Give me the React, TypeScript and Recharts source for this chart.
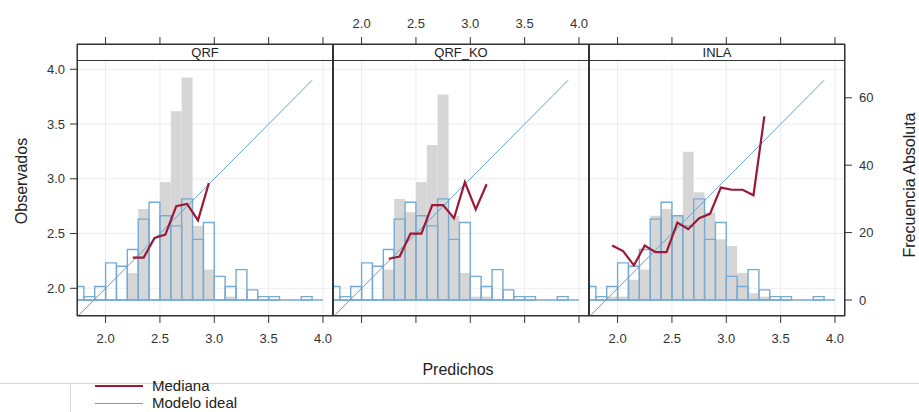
import React from 'react';
import { ComposedChart, XAxis, YAxis, Line, ReferenceArea, ReferenceLine, CartesianGrid } from 'recharts';

// Histogram bins (start of each 0.1-wide bin)
const binStarts = [1.7, 1.8, 1.9, 2.0, 2.1, 2.2, 2.3, 2.4, 2.5, 2.6, 2.7, 2.8, 2.9, 3.0, 3.1, 3.2, 3.3, 3.4, 3.5, 3.6, 3.7, 3.8, 3.9];
const binWidth = 0.1;

// Observed values histogram (blue outline) – same in all panels
const observedCounts = [4, 1, 4, 11, 10, 15, 24, 29, 25, 22, 30, 18, 23, 7, 4, 9, 3, 1, 1, 0, 0, 1, 0];

// Predicted values histograms (grey)
const qrfCounts = [0, 0, 0, 0, 0, 8, 27, 0, 35, 56, 66, 22, 9, 0, 1, 0, 0, 0, 0, 0, 0, 0, 0];
const qrfKoCounts = [0, 0, 0, 0, 0, 9, 30, 26, 35, 46, 61, 25, 8, 1, 1, 0, 0, 0, 0, 0, 0, 0, 0];
const inlaCounts = [0, 0, 1, 1, 6, 9, 25, 27, 25, 44, 32, 26, 18, 16, 8, 2, 1, 0, 0, 0, 0, 0, 0];

// Median of observed per predicted bin (red line)
const qrfMedX = [2.25, 2.35, 2.45, 2.55, 2.65, 2.75, 2.85, 2.95];
const qrfMedY = [2.28, 2.28, 2.46, 2.49, 2.75, 2.77, 2.62, 2.96];
const qrfKoMedX = [2.25, 2.35, 2.45, 2.55, 2.65, 2.75, 2.85, 2.95, 3.05, 3.15];
const qrfKoMedY = [2.27, 2.29, 2.5, 2.5, 2.76, 2.76, 2.64, 2.97, 2.72, 2.95];
const inlaMedX = [1.95, 2.05, 2.15, 2.25, 2.35, 2.45, 2.55, 2.65, 2.75, 2.85, 2.95, 3.05, 3.15, 3.25, 3.35];
const inlaMedY = [2.39, 2.34, 2.21, 2.39, 2.33, 2.33, 2.6, 2.54, 2.64, 2.68, 2.92, 2.9, 2.9, 2.85, 3.57];

// Ideal model line (y = x)
const idealX = [1.7, 3.9];

// Ticks
const xTicks = [2.0, 2.5, 3.0, 3.5, 4.0];
const obsTicks = [2.0, 2.5, 3.0, 3.5, 4.0];
const countTicks = [0, 20, 40, 60];

const panelNames = ['QRF', 'QRF_KO', 'INLA'];

const X_DOMAIN: [number, number] = [1.737, 4.092];
const OBS_DOMAIN: [number, number] = [1.747, 4.231];
const COUNT_DOMAIN: [number, number] = [-4.75, 75.96];

const W = 919;
const H = 412;
const PANEL_W = 256;
const PLOT_TOP = 44;
const PLOT_BOTTOM = 316;
const AXIS_W = 40;
const AXIS_H = 40;

const GREY = '#d6d6d6';
const BLUE = '#76abd6';
const BLUE_LINE = '#659fcb';
const RED = '#9c1834';
const INK = '#333333';
const FONT = '"Liberation Sans", Arial, sans-serif';

const fmt1 = (v: number) => v.toFixed(1);
const blank = () => '';

const idealData = idealX.map((v) => ({ x: v, y: v }));

type PanelProps = {
  name: string;
  counts: number[];
  medX: number[];
  medY: number[];
  left: number;
  showLeft: boolean;
  showRight: boolean;
  bottomLabels: boolean;
  topLabels: boolean;
};

function Panel({ counts, medX, medY, left, showLeft, showRight, bottomLabels, topLabels }: PanelProps) {
  const medianData = medX.map((x, i) => ({ x, y: medY[i] }));
  const margin = {
    top: PLOT_TOP - AXIS_H,
    bottom: H - PLOT_BOTTOM - AXIS_H,
    left: left - (showLeft ? AXIS_W : 0),
    right: W - (left + PANEL_W) - (showRight ? AXIS_W : 0),
  };
  const tickStyle = { fontSize: 13, fill: INK, fontFamily: FONT };
  return (
    <div style={{ position: 'absolute', left: 0, top: 0 }}>
      <ComposedChart width={W} height={H} margin={margin}>
        <CartesianGrid xAxisId="b" yAxisId="obs" stroke="#ececec" strokeWidth={1} />
        <XAxis
          xAxisId="b"
          orientation="bottom"
          type="number"
          dataKey="x"
          domain={X_DOMAIN}
          allowDataOverflow
          ticks={xTicks}
          interval={0}
          height={AXIS_H}
          tickSize={7}
          tickMargin={11}
          tickFormatter={bottomLabels ? fmt1 : blank}
          axisLine={{ stroke: INK }}
          tickLine={{ stroke: INK }}
          tick={tickStyle}
        />
        <XAxis
          xAxisId="t"
          orientation="top"
          type="number"
          dataKey="x"
          domain={X_DOMAIN}
          allowDataOverflow
          ticks={xTicks}
          interval={0}
          height={AXIS_H}
          tickSize={7}
          tickMargin={9}
          tickFormatter={topLabels ? fmt1 : blank}
          axisLine={{ stroke: INK }}
          tickLine={{ stroke: INK }}
          tick={tickStyle}
        />
        <YAxis
          yAxisId="obs"
          orientation="left"
          type="number"
          domain={OBS_DOMAIN}
          allowDataOverflow
          ticks={obsTicks}
          interval={0}
          hide={!showLeft}
          width={AXIS_W}
          tickSize={7}
          tickMargin={5}
          tickFormatter={fmt1}
          axisLine={{ stroke: INK }}
          tickLine={{ stroke: INK }}
          tick={tickStyle}
        />
        <YAxis
          yAxisId="cnt"
          orientation="right"
          type="number"
          domain={COUNT_DOMAIN}
          allowDataOverflow
          ticks={countTicks}
          interval={0}
          hide={!showRight}
          width={AXIS_W}
          tickSize={7}
          tickMargin={7}
          axisLine={{ stroke: INK }}
          tickLine={{ stroke: INK }}
          tick={tickStyle}
        />
        {binStarts.map((b, i) =>
          counts[i] > 0 ? (
            <ReferenceArea
              key={'g' + i}
              xAxisId="b"
              yAxisId="cnt"
              x1={b}
              x2={b + binWidth}
              y1={0}
              y2={counts[i]}
              fill={GREY}
              fillOpacity={1}
              stroke="none"
              ifOverflow="hidden"
            />
          ) : null
        )}
        {binStarts.map((b, i) =>
          observedCounts[i] > 0 ? (
            <ReferenceArea
              key={'o' + i}
              xAxisId="b"
              yAxisId="cnt"
              x1={b}
              x2={b + binWidth}
              y1={0}
              y2={observedCounts[i]}
              fill="none"
              fillOpacity={0}
              stroke={BLUE}
              strokeWidth={1.4}
              ifOverflow="hidden"
            />
          ) : null
        )}
        <ReferenceLine
          xAxisId="b"
          yAxisId="cnt"
          segment={[
            { x: binStarts[0], y: 0 },
            { x: binStarts[binStarts.length - 1] + binWidth, y: 0 },
          ]}
          stroke={BLUE}
          strokeWidth={1.4}
          ifOverflow="hidden"
        />
        <Line
          xAxisId="b"
          yAxisId="obs"
          data={idealData}
          dataKey="y"
          type="linear"
          stroke={BLUE_LINE}
          strokeWidth={1}
          dot={false}
          isAnimationActive={false}
        />
        <Line
          xAxisId="b"
          yAxisId="obs"
          data={medianData}
          dataKey="y"
          type="linear"
          stroke={RED}
          strokeWidth={2.2}
          dot={false}
          isAnimationActive={false}
        />
        <Line
          xAxisId="t"
          yAxisId="obs"
          data={idealData}
          dataKey="y"
          stroke="none"
          dot={false}
          activeDot={false}
          isAnimationActive={false}
        />
      </ComposedChart>
    </div>
  );
}

const panelCounts = [qrfCounts, qrfKoCounts, inlaCounts];
const panelMedX = [qrfMedX, qrfKoMedX, inlaMedX];
const panelMedY = [qrfMedY, qrfKoMedY, inlaMedY];
const panelLefts = [77, 333, 589];

export default function App() {
  return (
    <div
      style={{
        position: 'absolute',
        left: 0,
        top: 0,
        width: W,
        height: H,
        background: '#fff',
        overflow: 'hidden',
        fontFamily: FONT,
        color: '#222',
      }}
    >
      {panelNames.map((name, i) => (
        <Panel
          key={name}
          name={name}
          counts={panelCounts[i]}
          medX={panelMedX[i]}
          medY={panelMedY[i]}
          left={panelLefts[i]}
          showLeft={i === 0}
          showRight={i === 2}
          bottomLabels={i !== 1}
          topLabels={i === 1}
        />
      ))}
      {/* strips */}
      {panelNames.map((name, i) => (
        <div
          key={'s' + name}
          style={{
            position: 'absolute',
            left: panelLefts[i],
            top: PLOT_TOP,
            width: PANEL_W,
            height: 17,
            boxSizing: 'border-box',
            border: '1px solid ' + INK,
            background: '#fff',
            fontSize: 13,
            lineHeight: '15px',
            textAlign: 'center',
            color: '#222',
          }}
        >
          {name}
        </div>
      ))}
      {/* panel frames */}
      {panelNames.map((name, i) => (
        <div
          key={'f' + name}
          style={{
            position: 'absolute',
            left: panelLefts[i],
            top: PLOT_TOP,
            width: PANEL_W,
            height: PLOT_BOTTOM - PLOT_TOP,
            boxSizing: 'border-box',
            border: '1px solid ' + INK,
          }}
        />
      ))}
      {/* axis titles */}
      <div
        style={{
          position: 'absolute',
          left: 22,
          top: 181,
          transform: 'translate(-50%, -50%) rotate(-90deg)',
          fontSize: 16,
          whiteSpace: 'nowrap',
          color: '#222',
        }}
      >
        Observados
      </div>
      <div
        style={{
          position: 'absolute',
          left: 910,
          top: 185,
          transform: 'translate(-50%, -50%) rotate(-90deg)',
          fontSize: 16,
          whiteSpace: 'nowrap',
          color: '#222',
        }}
      >
        Frecuencia Absoluta
      </div>
      <div
        style={{
          position: 'absolute',
          left: 458,
          top: 370,
          transform: 'translate(-50%, -50%)',
          fontSize: 16,
          whiteSpace: 'nowrap',
          color: '#222',
        }}
      >
        Predichos
      </div>
      {/* legend area */}
      <div style={{ position: 'absolute', left: 0, top: 383, width: W, height: 1, background: '#d4d4d4' }} />
      <div style={{ position: 'absolute', left: 70, top: 383, width: 1, height: 29, background: '#d4d4d4' }} />
      <div style={{ position: 'absolute', left: 95, top: 385, width: 48, height: 2, background: RED }} />
      <div
        style={{ position: 'absolute', left: 152, top: 386, transform: 'translateY(-50%)', fontSize: 15, lineHeight: '16px', whiteSpace: 'nowrap', color: '#222' }}
      >
        Mediana
      </div>
      <div style={{ position: 'absolute', left: 95, top: 403, width: 48, height: 1, background: BLUE_LINE }} />
      <div
        style={{ position: 'absolute', left: 152, top: 403, transform: 'translateY(-50%)', fontSize: 15, lineHeight: '16px', whiteSpace: 'nowrap', color: '#222' }}
      >
        Modelo ideal
      </div>
    </div>
  );
}
